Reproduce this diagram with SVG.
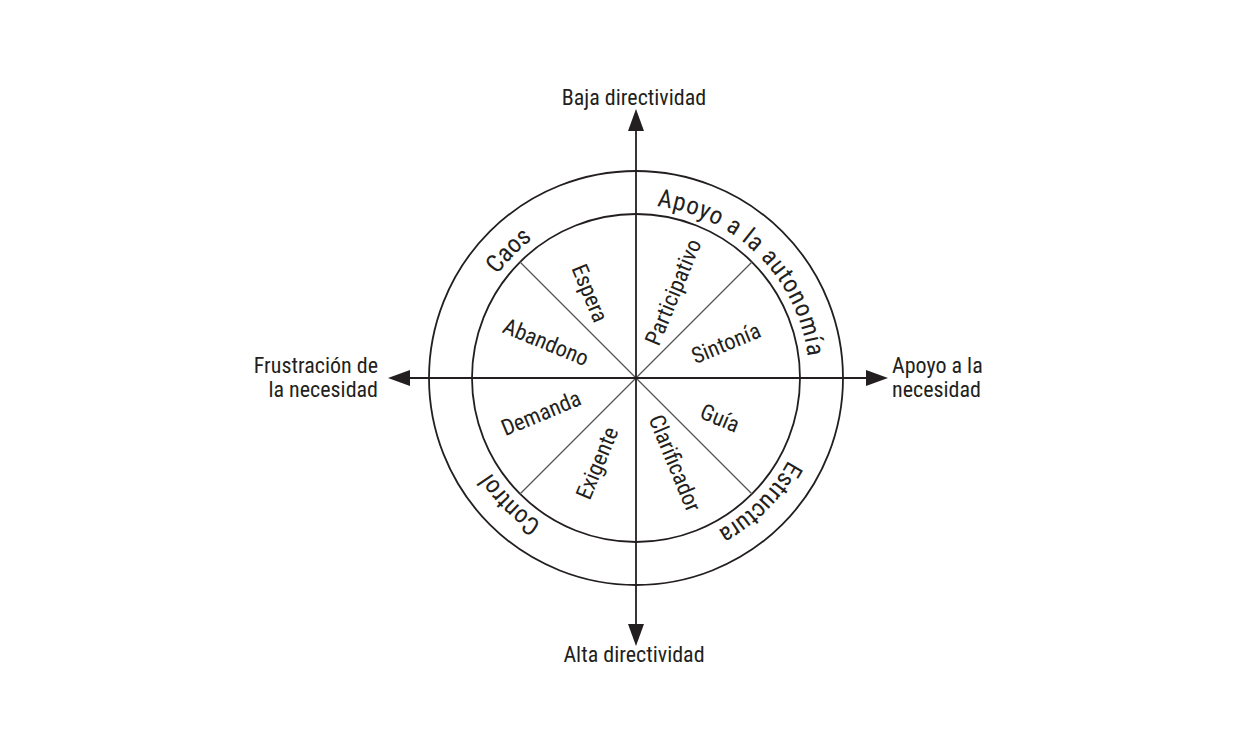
<svg xmlns="http://www.w3.org/2000/svg" width="1260" height="750" viewBox="0 0 1260 750">
<style>
text{font-family:Roboto,"Liberation Sans",sans-serif;font-stretch:condensed;fill:#231f20}
.ax{font-size:22px}
.in{font-size:22.5px}
.out{font-size:25px}
.ring{fill:none;stroke:#231f20;stroke-width:1.8}
.axis{stroke:#231f20;stroke-width:1.8}
.diag{stroke:#555;stroke-width:1.3}
.head{fill:#231f20}
</style>
<defs>
<path id="pA" d="M591.2 210.9 A173 173 0 0 1 803.1 422.8"/>
<path id="pC" d="M468.9 422.8 A173 173 0 0 1 680.8 210.9"/>
<path id="pK" d="M680.8 545.1 A173 173 0 0 1 468.9 333.2"/>
<path id="pE" d="M803.1 333.2 A173 173 0 0 1 591.2 545.1"/>
</defs>
<rect width="1260" height="750" fill="#fff"/>
<g id="rings">
<circle class="ring" cx="636" cy="378" r="207"/>
<circle class="ring" cx="636" cy="378" r="164"/>
</g>
<g id="connectors">
<line class="diag" x1="520" y1="262" x2="752" y2="494"/>
<line class="diag" x1="752" y1="262" x2="520" y2="494"/>
<line class="axis" x1="636" y1="128" x2="636" y2="625"/>
<line class="axis" x1="408" y1="378" x2="868" y2="378"/>
<polygon class="head" points="636,109 628,131 644,131"/>
<polygon class="head" points="636,646 628,624 644,624"/>
<polygon class="head" points="388,378 410,370 410,386"/>
<polygon class="head" points="888,378 866,370 866,386"/>
</g>
<g id="axis-labels">
<text class="ax" x="634" y="105" text-anchor="middle">Baja directividad</text>
<text class="ax" x="634" y="662" text-anchor="middle">Alta directividad</text>
<text class="ax" text-anchor="end"><tspan x="378" y="373">Frustración de</tspan><tspan x="378" y="397">la necesidad</tspan></text>
<text class="ax"><tspan x="892" y="373">Apoyo a la</tspan><tspan x="892" y="397">necesidad</tspan></text>
</g>
<g id="outer-labels">
<text class="out" letter-spacing="0.8"><textPath href="#pA" startOffset="50%" text-anchor="middle">Apoyo a la autonomía</textPath></text>
<text class="out"><textPath href="#pC" startOffset="50%" text-anchor="middle">Caos</textPath></text>
<text class="out"><textPath href="#pK" startOffset="50%" text-anchor="middle">Control</textPath></text>
<text class="out"><textPath href="#pE" startOffset="50%" text-anchor="middle">Estructura</textPath></text>
</g>
<g id="inner-labels">
<text class="in" text-anchor="middle" dy="0.35em" transform="translate(590,293) rotate(67.5)">Espera</text>
<text class="in" text-anchor="middle" dy="0.35em" transform="translate(673,292) rotate(-67.5)">Participativo</text>
<text class="in" text-anchor="middle" dy="0.35em" transform="translate(726,343) rotate(-22.5)">Sintonía</text>
<text class="in" text-anchor="middle" dy="0.35em" transform="translate(546,342) rotate(22.5)">Abandono</text>
<text class="in" text-anchor="middle" dy="0.35em" transform="translate(541,413) rotate(-22.5)">Demanda</text>
<text class="in" text-anchor="middle" dy="0.35em" transform="translate(597,463) rotate(-67.5)">Exigente</text>
<text class="in" text-anchor="middle" dy="0.35em" transform="translate(675,463) rotate(67.5)">Clarificador</text>
<text class="in" text-anchor="middle" dy="0.35em" transform="translate(720,418) rotate(22.5)">Guía</text>
</g>
</svg>
